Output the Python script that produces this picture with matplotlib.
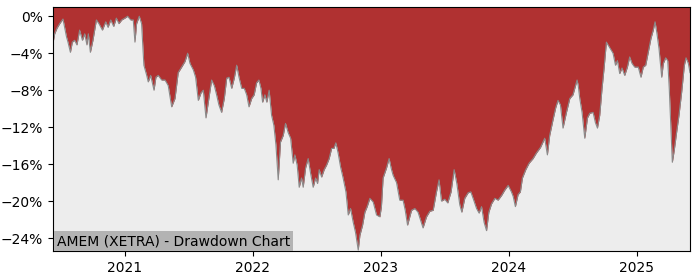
import pandas as pd
import matplotlib
matplotlib.use("Agg")
import matplotlib.pyplot as plt
import matplotlib.dates as mdates
from matplotlib.ticker import FuncFormatter, MultipleLocator

# Drawdown: decimal year -> drawdown in percent
years = [
    2020.440, 2020.453, 2020.471, 2020.492, 2020.518, 2020.531, 2020.545, 2020.557,
    2020.576, 2020.591, 2020.609, 2020.627, 2020.648, 2020.670, 2020.688, 2020.705,
    2020.716, 2020.732, 2020.752, 2020.779, 2020.799, 2020.826, 2020.852, 2020.870,
    2020.891, 2020.914, 2020.935, 2020.955, 2020.977, 2021.000, 2021.021, 2021.045,
    2021.065, 2021.078, 2021.091, 2021.112, 2021.130, 2021.148, 2021.170, 2021.182,
    2021.201, 2021.227, 2021.242, 2021.260, 2021.287, 2021.313, 2021.338, 2021.365,
    2021.391, 2021.416, 2021.443, 2021.469, 2021.490, 2021.508, 2021.534, 2021.552,
    2021.573, 2021.594, 2021.612, 2021.633, 2021.651, 2021.677, 2021.698, 2021.716,
    2021.734, 2021.755, 2021.776, 2021.795, 2021.813, 2021.834, 2021.854, 2021.873,
    2021.891, 2021.912, 2021.932, 2021.951, 2021.969, 2021.990, 2022.010, 2022.029,
    2022.047, 2022.063, 2022.076, 2022.094, 2022.109, 2022.127, 2022.146, 2022.164,
    2022.180, 2022.198, 2022.216, 2022.237, 2022.255, 2022.276, 2022.295, 2022.315,
    2022.328, 2022.346, 2022.362, 2022.380, 2022.393, 2022.412, 2022.432, 2022.451,
    2022.471, 2022.490, 2022.505, 2022.518, 2022.537, 2022.557, 2022.576, 2022.596,
    2022.615, 2022.633, 2022.648, 2022.666, 2022.685, 2022.705, 2022.727, 2022.745,
    2022.763, 2022.784, 2022.802, 2022.823, 2022.836, 2022.857, 2022.875, 2022.893,
    2022.914, 2022.940, 2022.966, 2022.992, 2023.005, 2023.018, 2023.045, 2023.065,
    2023.082, 2023.096, 2023.123, 2023.148, 2023.174, 2023.191, 2023.209, 2023.240,
    2023.266, 2023.291, 2023.305, 2023.330, 2023.357, 2023.383, 2023.409, 2023.435,
    2023.455, 2023.474, 2023.500, 2023.523, 2023.549, 2023.573, 2023.594, 2023.617,
    2023.633, 2023.656, 2023.682, 2023.703, 2023.721, 2023.748, 2023.768, 2023.787,
    2023.807, 2023.826, 2023.844, 2023.865, 2023.891, 2023.916, 2023.943, 2023.969,
    2023.995, 2024.021, 2024.035, 2024.052, 2024.073, 2024.091, 2024.107, 2024.133,
    2024.159, 2024.190, 2024.216, 2024.248, 2024.268, 2024.281, 2024.302, 2024.320,
    2024.346, 2024.367, 2024.385, 2024.404, 2024.424, 2024.451, 2024.477, 2024.502,
    2024.534, 2024.543, 2024.555, 2024.573, 2024.594, 2024.615, 2024.633, 2024.659,
    2024.677, 2024.693, 2024.711, 2024.729, 2024.745, 2024.763, 2024.789, 2024.815,
    2024.834, 2024.849, 2024.867, 2024.885, 2024.906, 2024.927, 2024.945, 2024.963,
    2024.984, 2025.010, 2025.031, 2025.049, 2025.068, 2025.088, 2025.109, 2025.127,
    2025.141, 2025.154, 2025.172, 2025.193, 2025.206, 2025.224, 2025.240, 2025.252,
    2025.266, 2025.276, 2025.291, 2025.310, 2025.328, 2025.349, 2025.370, 2025.383,
    2025.401, 2025.414,
]
drawdown = [
    -2.9, -1.9, -1.3, -0.8, -0.3, -1.2, -2.2, -2.8,
    -3.9, -2.8, -2.6, -3.1, -1.5, -2.6, -1.9, -3.1,
    -1.9, -3.9, -2.6, -0.4, -0.8, -1.5, -0.6, -1.2,
    -0.4, -1.1, -0.2, -0.8, -0.4, -0.2, 0.0, -0.4,
    -0.4, -2.8, -0.8, 0.0, -0.8, -5.3, -6.4, -7.1,
    -6.4, -8.0, -6.6, -6.4, -6.9, -6.9, -7.5, -9.8,
    -8.9, -6.1, -5.5, -4.9, -4.0, -5.1, -5.8, -6.6,
    -9.1, -8.3, -8.0, -11.0, -9.3, -6.9, -7.5, -8.5,
    -9.6, -10.4, -8.9, -6.7, -6.6, -7.8, -6.7, -5.3,
    -6.6, -7.8, -7.8, -8.5, -9.8, -8.9, -8.5, -7.2,
    -6.9, -7.8, -9.3, -8.5, -9.3, -8.0, -10.7, -11.8,
    -13.9, -17.7, -13.6, -12.9, -11.6, -12.6, -13.2, -15.9,
    -15.0, -16.1, -18.5, -17.5, -18.5, -16.4, -15.4, -17.0,
    -18.5, -17.5, -18.1, -16.6, -17.4, -16.6, -16.1, -15.4,
    -14.3, -14.3, -13.7, -14.8, -16.3, -17.5, -19.0, -21.5,
    -20.8, -22.3, -23.4, -25.3, -23.7, -22.6, -21.2, -20.6,
    -19.7, -20.1, -21.5, -21.7, -20.6, -17.5, -16.4, -15.4,
    -16.5, -17.2, -18.0, -19.9, -19.9, -21.0, -22.6, -21.0,
    -20.8, -21.2, -21.8, -22.9, -21.7, -21.1, -21.0, -19.0,
    -17.7, -20.0, -19.8, -20.2, -19.0, -16.6, -18.1, -20.4,
    -21.2, -19.7, -19.1, -19.0, -19.7, -20.8, -21.3, -20.6,
    -22.3, -23.2, -21.2, -20.3, -19.7, -19.9, -19.4, -18.8,
    -18.3, -19.0, -19.5, -20.6, -19.3, -19.0, -17.5, -16.6,
    -15.9, -15.4, -14.8, -14.2, -13.6, -13.2, -15.0, -12.9,
    -11.2, -9.9, -9.1, -9.6, -12.1, -10.4, -8.9, -8.5,
    -6.9, -7.5, -8.9, -10.4, -13.2, -11.0, -10.5, -10.4,
    -11.5, -12.1, -10.7, -7.8, -5.6, -2.8, -3.4, -4.0,
    -5.3, -4.8, -6.2, -5.6, -6.4, -5.5, -4.4, -5.1,
    -5.5, -5.5, -6.6, -5.5, -5.3, -3.9, -2.4, -1.5,
    -0.6, -1.7, -3.5, -6.6, -5.1, -4.5, -4.8, -7.8,
    -12.5, -15.8, -14.5, -12.5, -10.7, -8.2, -5.3, -4.5,
    -5.1, -6.1,
]
title = "AMEM (XETRA) - Drawdown Chart"


def to_date(y):
    whole = int(y)
    return pd.Timestamp(f"{whole}-01-01") + pd.Timedelta(days=(y - whole) * 365.25)


dates = [to_date(y) for y in years]
top = 1.0

fig = plt.figure(figsize=(7, 2.8), dpi=100)
ax = fig.add_axes([0.0757, 0.1036, 0.91, 0.8714])
ax.set_facecolor("#ededed")

ax.fill_between(dates, drawdown, top, color="#b03131", linewidth=0)
ax.plot(dates, drawdown, color="#8a8a8a", linewidth=0.8)

ax.set_xlim(dates[0], dates[-1])
ax.set_ylim(min(drawdown) - 0.1, top)

ax.yaxis.set_major_locator(MultipleLocator(4))
ax.yaxis.set_major_formatter(FuncFormatter(lambda v, p: f"{v:.0f}%".replace("-", "\u2212")))
ax.xaxis.set_major_locator(mdates.YearLocator())
ax.xaxis.set_major_formatter(mdates.DateFormatter("%Y"))
ax.tick_params(labelsize=10)

ax.text(0.006, 0.012, title, transform=ax.transAxes, fontsize=10, ha="left", va="bottom",
        bbox=dict(facecolor="#b3b3b3", edgecolor="none", pad=2))

fig.savefig("out.png", dpi=100)
